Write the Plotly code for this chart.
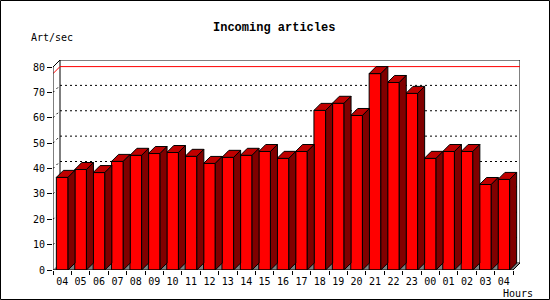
import plotly.graph_objects as go

hours = ["04","05","06","07","08","09","10","11","12","13","14","15","16",
         "17","18","19","20","21","22","23","00","01","02","03","04"]
rates = [36.5, 39.6, 38.4, 42.8, 45.2, 45.9, 46.3, 44.8, 42.0, 44.4, 45.2, 46.7, 44.0,
         46.7, 62.9, 65.7, 60.9, 77.4, 73.9, 69.6, 44.0, 46.7, 46.7, 33.7, 35.7]
y_ticks = [0, 10, 20, 30, 40, 50, 60, 70, 80]
grid_vals = [10, 20, 30, 40, 50, 60, 70]

n = len(hours)
YMAX = 80
dx = 7 / 18.4          # depth offset in x units
dy = 7 / 2.5375        # depth offset in y units
bw = 0.636
xc = [i + 0.5 for i in range(n)]
vmax = max(rates)

FRONT = "#ff0000"
TOP = "#c00000"
SIDE = "#800000"
FLOOR = "#808080"

fig = go.Figure()

shapes = []
# back wall frame
shapes.append(dict(type="rect", layer="below", x0=dx, y0=dy, x1=n + dx, y1=YMAX + dy,
                   line=dict(color="black", width=1), fillcolor="white"))
# floor
shapes.append(dict(type="path", layer="below",
                   path=f"M 0,0 L {n},0 L {n+dx},{dy} L {dx},{dy} Z",
                   fillcolor=FLOOR, line=dict(width=0)))
# dotted gridlines on back wall + left wall
for g in grid_vals:
    shapes.append(dict(type="line", layer="below", x0=dx, y0=g + dy, x1=n + dx, y1=g + dy,
                       line=dict(color="black", width=1, dash="2px,3px")))
    shapes.append(dict(type="line", layer="below", x0=0, y0=g, x1=dx, y1=g + dy,
                       line=dict(color="black", width=1, dash="2px,3px")))
# max line (red)
shapes.append(dict(type="path", layer="below",
                   path=f"M 0,{vmax} L {dx},{vmax+dy} L {n+dx},{vmax+dy}",
                   line=dict(color="red", width=1)))
# front axis & edges
shapes.append(dict(type="line", layer="below", x0=0, y0=0, x1=0, y1=YMAX,
                   line=dict(color="black", width=1)))
shapes.append(dict(type="line", layer="below", x0=0, y0=YMAX, x1=dx, y1=YMAX + dy,
                   line=dict(color="black", width=1)))
shapes.append(dict(type="line", layer="above", x0=0, y0=0, x1=n, y1=0,
                   line=dict(color="black", width=1)))
shapes.append(dict(type="line", layer="above", x0=n, y0=0, x1=n + dx, y1=dy,
                   line=dict(color="black", width=1)))

# front faces
fig.add_trace(go.Bar(x=xc, y=rates, width=bw, marker=dict(color=FRONT,
                     line=dict(color="black", width=1)), hoverinfo="skip"))

# top and side faces
tx, ty, sx, sy = [], [], [], []
for c, v in zip(xc, rates):
    x0, x1 = c - bw / 2, c + bw / 2
    tx += [x0, x1, x1 + dx, x0 + dx, x0, None]
    ty += [v, v, v + dy, v + dy, v, None]
    sx += [x1, x1 + dx, x1 + dx, x1, x1, None]
    sy += [0, dy, v + dy, v, 0, None]
fig.add_trace(go.Scatter(x=tx, y=ty, mode="lines", fill="toself", fillcolor=TOP,
                         line=dict(color="black", width=1), hoverinfo="skip"))
fig.add_trace(go.Scatter(x=sx, y=sy, mode="lines", fill="toself", fillcolor=SIDE,
                         line=dict(color="black", width=1), hoverinfo="skip"))

# outer border (paper coords)
L, R, T, B = 53, 30, 60, 30
W, H = 550 - L - R, 300 - T - B
def px(x): return (x - L) / W
def py(y): return (300 - B - y) / H
shapes.append(dict(type="rect", xref="paper", yref="paper", layer="above",
                   x0=px(0.5), x1=px(549.5), y0=py(0.5), y1=py(299.5),
                   line=dict(color="black", width=1)))

font_small = dict(family="DejaVu Sans Mono", size=10, color="black")

fig.update_layout(
    width=550, height=300,
    margin=dict(l=L, r=R, t=T, b=B),
    paper_bgcolor="white", plot_bgcolor="white",
    showlegend=False,
    shapes=shapes,
    xaxis=dict(range=[0, n + dx], tickmode="array", tickvals=xc, ticktext=hours,
               ticks="", showgrid=False, zeroline=False, showline=False,
               tickfont=font_small, ticklabelstandoff=4,
               minor=dict(tickmode="array", tickvals=list(range(n + 1)), ticks="outside",
                          ticklen=4, tickcolor="black", showgrid=False)),
    yaxis=dict(range=[0, YMAX + dy], tickmode="array", tickvals=y_ticks,
               ticks="outside", ticklen=5, tickcolor="black", showgrid=False,
               zeroline=False, showline=False, tickfont=font_small),
    annotations=[
        dict(text="<b>Incoming articles</b>", xref="paper", yref="paper",
             x=px(274), y=py(28), showarrow=False, xanchor="center", yanchor="middle",
             font=dict(family="Liberation Mono", size=12, color="black")),
        dict(text="Art/sec", xref="paper", yref="paper", x=px(29), y=py(38),
             showarrow=False, xanchor="left", yanchor="middle", font=font_small),
        dict(text="Hours", xref="paper", yref="paper", x=px(535), y=py(293),
             showarrow=False, xanchor="right", yanchor="middle", font=font_small),
    ],
)

fig.write_html("out.html")
